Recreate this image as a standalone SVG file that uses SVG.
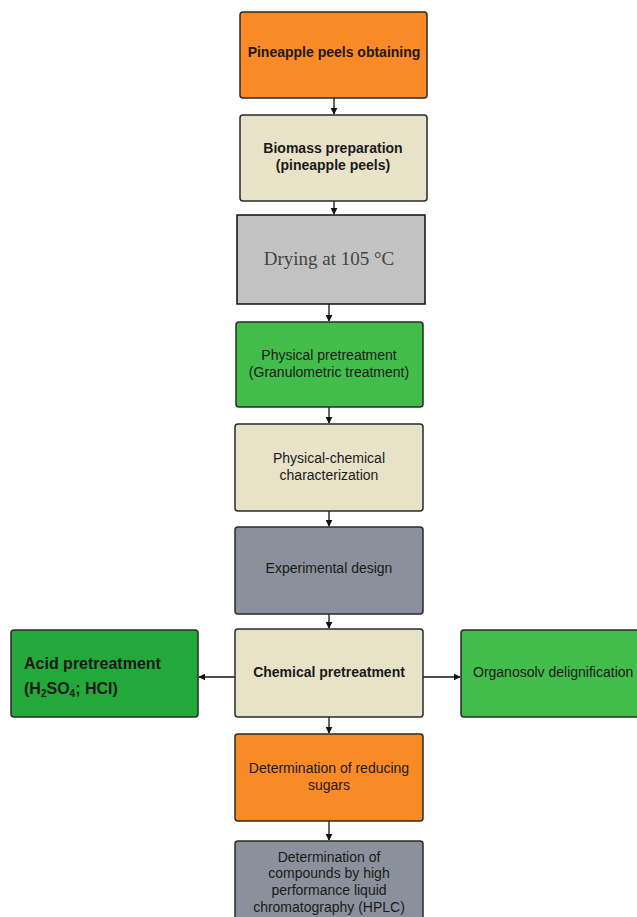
<svg xmlns="http://www.w3.org/2000/svg" width="637" height="917" viewBox="0 0 637 917">
<style>
.b{stroke:#2a2a2a;stroke-width:1.5}
.t{font-family:"Liberation Sans",Arial,sans-serif;font-size:14px;fill:#1a1a1a;text-anchor:middle}
.bd{font-weight:bold}
.c{stroke:#111;stroke-width:1.3;fill:none;marker-end:url(#ah)}
</style>
<defs>
<marker id="ah" viewBox="0 0 10 10" refX="9" refY="5" markerWidth="7" markerHeight="7" orient="auto" markerUnits="userSpaceOnUse">
<path d="M0,0 L10,5 L0,10 z" fill="#111"/>
</marker>
</defs>
<rect width="637" height="917" fill="#fff"/>
<g id="connectors">
<line class="c" x1="334" y1="98" x2="334" y2="114"/>
<line class="c" x1="334" y1="201" x2="334" y2="214"/>
<line class="c" x1="329" y1="304" x2="329" y2="321"/>
<line class="c" x1="329" y1="407" x2="329" y2="423"/>
<line class="c" x1="329" y1="511" x2="329" y2="526"/>
<line class="c" x1="329" y1="614" x2="329" y2="628"/>
<line class="c" x1="235" y1="677" x2="199" y2="677"/>
<line class="c" x1="423" y1="677" x2="460" y2="677"/>
<line class="c" x1="329" y1="717" x2="329" y2="733"/>
<line class="c" x1="329" y1="821" x2="329" y2="840"/>
</g>
<g id="n1">
<rect class="b" x="240" y="12" width="187" height="86" rx="3" fill="#f98a25"/>
<text class="t bd" x="334" y="57">Pineapple peels obtaining</text>
</g>
<g id="n2">
<rect class="b" x="240" y="115" width="187" height="86" rx="3" fill="#e8e2c9"/>
<text class="t bd" x="333" y="153">Biomass preparation</text>
<text class="t bd" x="333" y="170">(pineapple peels)</text>
</g>
<g id="n3">
<rect x="237" y="215" width="188" height="89" fill="#c2c2c2" stroke="#111" stroke-width="1.5"/>
<text x="329" y="265" font-family="'Liberation Serif','Times New Roman',serif" font-size="19" fill="#444" text-anchor="middle">Drying at 105 °C</text>
</g>
<g id="n4">
<rect class="b" x="236" y="322" width="187" height="85" rx="3" fill="#42bd4b"/>
<text class="t" x="329" y="360">Physical pretreatment</text>
<text class="t" x="329" y="377">(Granulometric treatment)</text>
</g>
<g id="n5">
<rect class="b" x="235" y="424" width="188" height="87" rx="3" fill="#e8e2c9"/>
<text class="t" x="329" y="463">Physical-chemical</text>
<text class="t" x="329" y="480">characterization</text>
</g>
<g id="n6">
<rect class="b" x="235" y="527" width="188" height="87" rx="3" fill="#8a919c"/>
<text class="t" x="329" y="573">Experimental design</text>
</g>
<g id="n7">
<rect class="b" x="235" y="629" width="188" height="88" rx="3" fill="#e8e2c9"/>
<text class="t bd" x="329" y="677">Chemical pretreatment</text>
</g>
<g id="n8">
<rect class="b" x="11" y="630" width="187" height="87" rx="3" fill="#23a83a"/>
<text x="24" y="669" font-family="'Liberation Sans',Arial,sans-serif" font-size="16" font-weight="bold" fill="#1a1a1a">Acid pretreatment</text>
<text x="24" y="694" font-family="'Liberation Sans',Arial,sans-serif" font-size="16" font-weight="bold" fill="#1a1a1a">(H<tspan font-size="10" dy="3">2</tspan><tspan dy="-3">SO</tspan><tspan font-size="10" dy="3">4</tspan><tspan dy="-3">; HCl)</tspan></text>
<text x="188" y="664" font-family="'Liberation Sans',Arial,sans-serif" font-size="8" fill="#6a8a6a">:</text>
</g>
<g id="n9">
<rect class="b" x="461" y="630" width="180" height="87" rx="3" fill="#42bd4b"/>
<text x="473" y="677" font-family="'Liberation Sans',Arial,sans-serif" font-size="14" fill="#1a1a1a">Organosolv delignification</text>
</g>
<g id="n10">
<rect class="b" x="235" y="734" width="188" height="87" rx="3" fill="#f98a25"/>
<text class="t" x="329" y="773">Determination of reducing</text>
<text class="t" x="329" y="790">sugars</text>
</g>
<g id="n11">
<rect class="b" x="235" y="841" width="188" height="90" rx="3" fill="#8a919c"/>
<text class="t" x="329" y="862">Determination of</text>
<text class="t" x="329" y="878">compounds by high</text>
<text class="t" x="329" y="895">performance liquid</text>
<text class="t" x="329" y="912">chromatography (HPLC)</text>
</g>
</svg>
